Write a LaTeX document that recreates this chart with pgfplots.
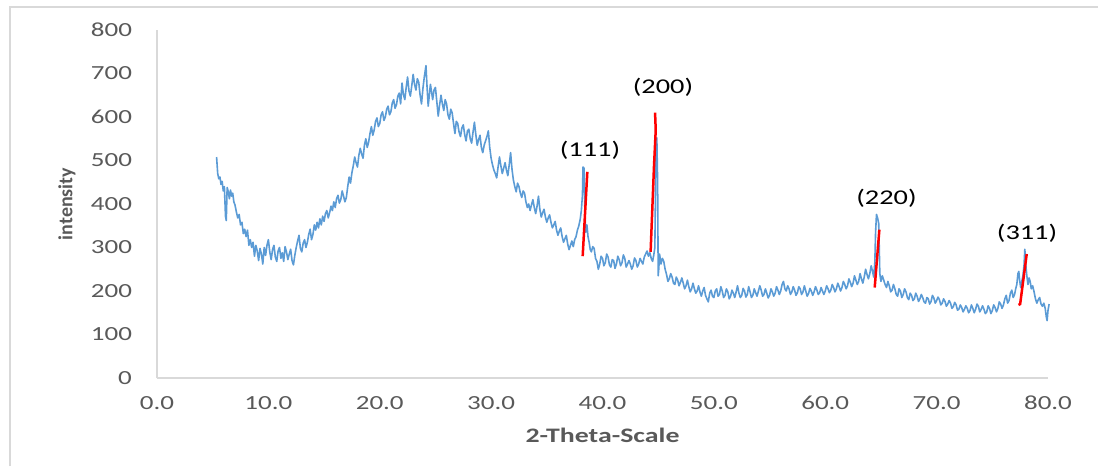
\documentclass[border=0pt]{standalone}
\usepackage{fontspec}
\setmainfont{Carlito}[FakeStretch=1.35]
\newfontfamily\plainfont{Carlito}
\usepackage{pgfplots}
\pgfplotsset{compat=1.18}
\definecolor{xrdblue}{HTML}{5B9BD5}
\definecolor{tickgray}{HTML}{595959}
\definecolor{linegray}{HTML}{D9D9D9}

\begin{document}
\begin{tikzpicture}
% 1 px of the reference = 0.5pt
\useasboundingbox (-78.5pt,-44pt) rectangle (470.5pt,189pt);
\draw[linegray, line width=0.8pt] (-73.5pt,-44pt) -- (-73.5pt,185.5pt) -- (470.5pt,185.5pt);
\begin{axis}[
  scale only axis, width=445.5pt, height=174pt,
  xmin=0, xmax=80, ymin=0, ymax=800,
  xtick={0,10,...,80}, ytick={0,100,...,800},
  axis x line*=bottom, axis y line*=left,
  axis line style={linegray, line width=0.8pt, -},
  major tick length=0pt,
  clip=false,
  /pgf/number format/assume math mode=true,
  tick label style={font=\fontsize{10}{12}\selectfont, text=tickgray},
  xticklabel style={yshift=-5.5pt, /pgf/number format/fixed,
    /pgf/number format/fixed zerofill, /pgf/number format/precision=1},
  yticklabel style={xshift=-9pt},
  xlabel={\bfseries 2-Theta-Scale},
  ylabel={\plainfont\bfseries intensity},
  xlabel style={at={(axis description cs:0.5,-0.1638)}, anchor=center,
    font=\fontsize{10.3}{12}\selectfont, text=tickgray},
  ylabel style={at={(axis description cs:-0.101,0.5)}, anchor=center,
    font=\fontsize{10}{12}\selectfont, text=tickgray},
]
\addplot[xrdblue, line width=0.8pt, line join=round] coordinates {
(5.35,508) (5.45,470) (5.55,458) (5.65,462) (5.75,445) (5.85,452) (5.95,430) (6.05,440)
(6.15,372) (6.22,362) (6.3,438) (6.4,428) (6.5,412) (6.6,432) (6.7,418) (6.8,425)
(6.9,405) (7.0,398) (7.125,382) (7.25,368) (7.375,376) (7.5,352) (7.625,358) (7.75,332)
(7.875,342) (8.0,325) (8.125,340) (8.25,305) (8.375,318) (8.5,300) (8.625,312) (8.75,280)
(8.875,305) (9.0,292) (9.125,270) (9.25,298) (9.375,285) (9.5,262) (9.625,300) (9.75,282)
(9.875,305) (10.0,318) (10.125,290) (10.25,272) (10.375,295) (10.5,305) (10.625,278) (10.75,268)
(10.875,292) (11.0,300) (11.125,275) (11.25,288) (11.375,268) (11.5,302) (11.625,290) (11.75,272)
(11.875,285) (12.0,296) (12.125,270) (12.25,260) (12.375,282) (12.5,300) (12.625,315) (12.75,328)
(12.875,298) (13.0,290) (13.125,310) (13.25,318) (13.375,300) (13.5,312) (13.625,330) (13.75,342)
(13.875,318) (14.0,330) (14.125,352) (14.25,340) (14.375,358) (14.5,345) (14.625,366) (14.75,352)
(14.875,372) (15.0,360) (15.125,378) (15.25,385) (15.375,368) (15.5,380) (15.625,395) (15.75,385)
(15.875,405) (16.0,392) (16.125,412) (16.25,420) (16.375,402) (16.5,410) (16.625,430) (16.75,418)
(16.875,405) (17.0,415) (17.125,440) (17.25,462) (17.375,448) (17.5,472) (17.625,488) (17.75,508)
(17.875,495) (18.0,485) (18.125,512) (18.25,528) (18.375,515) (18.5,505) (18.625,535) (18.75,550)
(18.875,530) (19.0,542) (19.125,562) (19.25,578) (19.375,558) (19.5,570) (19.625,590) (19.75,598)
(19.875,578) (20.0,585) (20.125,605) (20.25,612) (20.375,592) (20.5,600) (20.625,618) (20.75,625)
(20.875,605) (21.0,612) (21.125,632) (21.25,640) (21.375,620) (21.5,628) (21.625,648) (21.75,655)
(21.875,630) (22.0,678) (22.125,652) (22.25,640) (22.375,668) (22.5,692) (22.625,660) (22.75,648)
(22.875,672) (23.0,698) (23.125,675) (23.25,662) (23.375,688) (23.5,680) (23.625,650) (23.75,630)
(23.875,665) (24.0,692) (24.15,718) (24.25,668) (24.35,625) (24.45,650) (24.55,675) (24.65,658)
(24.75,640) (24.875,662) (25.0,668) (25.125,635) (25.25,602) (25.375,628) (25.5,650) (25.625,630)
(25.75,615) (25.875,640) (26.0,630) (26.125,605) (26.25,595) (26.375,618) (26.5,610) (26.625,585)
(26.75,562) (26.875,590) (27.0,585) (27.125,565) (27.25,555) (27.375,575) (27.5,582) (27.625,560)
(27.75,545) (27.875,568) (28.0,572) (28.125,550) (28.25,540) (28.375,565) (28.5,588) (28.625,560)
(28.75,535) (28.875,548) (29.0,558) (29.125,530) (29.25,518) (29.375,535) (29.5,545) (29.625,555)
(29.75,568) (29.875,530) (30.0,505) (30.125,490) (30.25,478) (30.375,470) (30.5,460) (30.625,485)
(30.75,508) (30.875,488) (31.0,470) (31.125,482) (31.25,495) (31.375,478) (31.5,465) (31.625,490)
(31.75,518) (31.875,480) (32.0,455) (32.125,440) (32.25,428) (32.375,448) (32.5,440) (32.625,425)
(32.75,415) (32.875,430) (33.0,425) (33.125,405) (33.25,392) (33.375,400) (33.5,385) (33.625,398)
(33.75,410) (33.875,392) (34.0,378) (34.125,395) (34.25,418) (34.375,388) (34.5,370) (34.625,380)
(34.75,388) (34.875,370) (35.0,358) (35.125,368) (35.25,375) (35.375,358) (35.5,345) (35.625,352)
(35.75,360) (35.875,340) (36.0,328) (36.125,338) (36.25,345) (36.375,325) (36.5,312) (36.625,320)
(36.75,328) (36.875,308) (37.0,295) (37.125,305) (37.25,315) (37.375,302) (37.5,318) (37.625,325)
(37.75,340) (37.875,350) (38.0,365) (38.1,385) (38.2,420) (38.25,485) (38.35,482) (38.42,380)
(38.5,335) (38.6,352) (38.7,325) (38.8,312) (38.9,295) (39.0,290) (39.125,302) (39.25,298)
(39.375,275) (39.5,268) (39.625,250) (39.75,262) (39.875,280) (40.0,275) (40.125,258) (40.25,265)
(40.375,285) (40.5,278) (40.625,260) (40.75,255) (40.875,272) (41.0,270) (41.125,252) (41.25,262)
(41.375,280) (41.5,272) (41.625,258) (41.75,265) (41.875,283) (42.0,275) (42.125,255) (42.25,262)
(42.375,270) (42.5,262) (42.625,250) (42.75,258) (42.875,276) (43.0,270) (43.125,255) (43.25,262)
(43.375,275) (43.5,268) (43.625,262) (43.75,278) (43.875,285) (44.0,292) (44.125,280) (44.25,288)
(44.375,275) (44.5,268) (44.6,282) (44.7,300) (44.8,520) (44.88,552) (44.95,450) (45.0,235)
(45.05,250) (45.125,285) (45.25,262) (45.375,275) (45.5,268) (45.625,250) (45.75,238) (45.875,222)
(46.0,228) (46.125,240) (46.25,232) (46.375,218) (46.5,215) (46.625,232) (46.75,225) (46.875,212)
(47.0,220) (47.125,230) (47.25,218) (47.375,205) (47.5,212) (47.625,225) (47.75,210) (47.875,198)
(48.0,205) (48.125,218) (48.25,205) (48.375,195) (48.5,200) (48.625,212) (48.75,198) (48.875,188)
(49.0,200) (49.125,208) (49.25,190) (49.375,182) (49.5,175) (49.625,195) (49.75,202) (49.875,188)
(50.0,185) (50.125,200) (50.25,205) (50.375,188) (50.5,192) (50.625,210) (50.75,200) (50.875,185)
(51.0,190) (51.125,205) (51.25,198) (51.375,182) (51.5,188) (51.625,202) (51.75,195) (51.875,185)
(52.0,198) (52.125,212) (52.25,195) (52.375,185) (52.5,190) (52.625,206) (52.75,200) (52.875,186)
(53.0,192) (53.125,210) (53.25,198) (53.375,185) (53.5,190) (53.625,205) (53.75,196) (53.875,188)
(54.0,200) (54.125,212) (54.25,202) (54.375,188) (54.5,192) (54.625,205) (54.75,195) (54.875,184)
(55.0,190) (55.125,205) (55.25,198) (55.375,188) (55.5,195) (55.625,210) (55.75,202) (55.875,192)
(56.0,200) (56.125,215) (56.25,222) (56.375,205) (56.5,200) (56.625,212) (56.75,205) (56.875,192)
(57.0,198) (57.125,210) (57.25,202) (57.375,190) (57.5,196) (57.625,210) (57.75,205) (57.875,192)
(58.0,198) (58.125,212) (58.25,200) (58.375,188) (58.5,194) (58.625,206) (58.75,200) (58.875,190)
(59.0,198) (59.125,210) (59.25,202) (59.375,192) (59.5,196) (59.625,208) (59.75,200) (59.875,192)
(60.0,200) (60.125,212) (60.25,205) (60.375,196) (60.5,202) (60.625,215) (60.75,208) (60.875,198)
(61.0,205) (61.125,218) (61.25,210) (61.375,200) (61.5,208) (61.625,222) (61.75,215) (61.875,205)
(62.0,212) (62.125,228) (62.25,220) (62.375,210) (62.5,218) (62.625,235) (62.75,225) (62.875,215)
(63.0,222) (63.125,240) (63.25,228) (63.375,218) (63.5,232) (63.625,250) (63.75,238) (63.875,228)
(64.0,240) (64.125,258) (64.25,245) (64.35,232) (64.45,265) (64.52,335) (64.6,376) (64.7,368)
(64.8,355) (64.85,300) (64.9,240) (65.0,222) (65.125,235) (65.25,225) (65.375,215) (65.5,208)
(65.625,222) (65.75,212) (65.875,198) (66.0,202) (66.125,215) (66.25,205) (66.375,192) (66.5,188)
(66.625,205) (66.75,200) (66.875,185) (67.0,192) (67.125,205) (67.25,198) (67.375,185) (67.5,180)
(67.625,195) (67.75,190) (67.875,178) (68.0,182) (68.125,195) (68.25,188) (68.375,176) (68.5,182)
(68.625,192) (68.75,185) (68.875,175) (69.0,172) (69.125,185) (69.25,182) (69.375,170) (69.5,176)
(69.625,190) (69.75,184) (69.875,172) (70.0,178) (70.125,186) (70.25,180) (70.375,168) (70.5,172)
(70.625,182) (70.75,176) (70.875,165) (71.0,170) (71.125,178) (71.25,172) (71.375,160) (71.5,164)
(71.625,174) (71.75,168) (71.875,156) (72.0,158) (72.125,168) (72.25,162) (72.375,152) (72.5,158)
(72.625,166) (72.75,160) (72.875,150) (73.0,155) (73.125,168) (73.25,160) (73.375,150) (73.5,158)
(73.625,170) (73.75,165) (73.875,152) (74.0,158) (74.125,166) (74.25,158) (74.375,148) (74.5,152)
(74.625,166) (74.75,160) (74.875,148) (75.0,155) (75.125,168) (75.25,162) (75.375,152) (75.5,160)
(75.625,175) (75.75,170) (75.875,160) (76.0,168) (76.125,182) (76.25,190) (76.375,172) (76.5,178)
(76.625,195) (76.75,202) (76.875,185) (77.0,192) (77.1,205) (77.2,215) (77.3,240) (77.38,245)
(77.45,225) (77.55,208) (77.65,222) (77.75,235) (77.85,260) (77.92,296) (78.0,262) (78.1,235)
(78.2,215) (78.3,230) (78.4,222) (78.5,205) (78.625,212) (78.75,198) (78.875,182) (79.0,172)
(79.125,180) (79.25,185) (79.375,170) (79.5,165) (79.625,172) (79.75,160) (79.85,140) (79.92,132)
(80.0,155) (80.1,170)};
% red reference marks at the reflections
\addplot[red, line width=1.25pt] coordinates {(38.22,280) (38.64,474)};
\addplot[red, line width=1.25pt] coordinates {(44.32,290) (44.62,484) (44.78,570) (44.72,610)};
\addplot[red, line width=1.25pt] coordinates {(64.44,208) (64.86,341)};
\addplot[red, line width=1.25pt] coordinates {(77.35,168) (77.5,170) (78.09,285)};
\node[font=\fontsize{10.5}{12}\selectfont] at (axis cs:38.88,524) {(111)};
\node[font=\fontsize{10.5}{12}\selectfont] at (axis cs:45.43,669) {(200)};
\node[font=\fontsize{10.5}{12}\selectfont] at (axis cs:65.5,414) {(220)};
\node[font=\fontsize{10.5}{12}\selectfont] at (axis cs:78.12,333) {(311)};
\end{axis}
\end{tikzpicture}
\end{document}
